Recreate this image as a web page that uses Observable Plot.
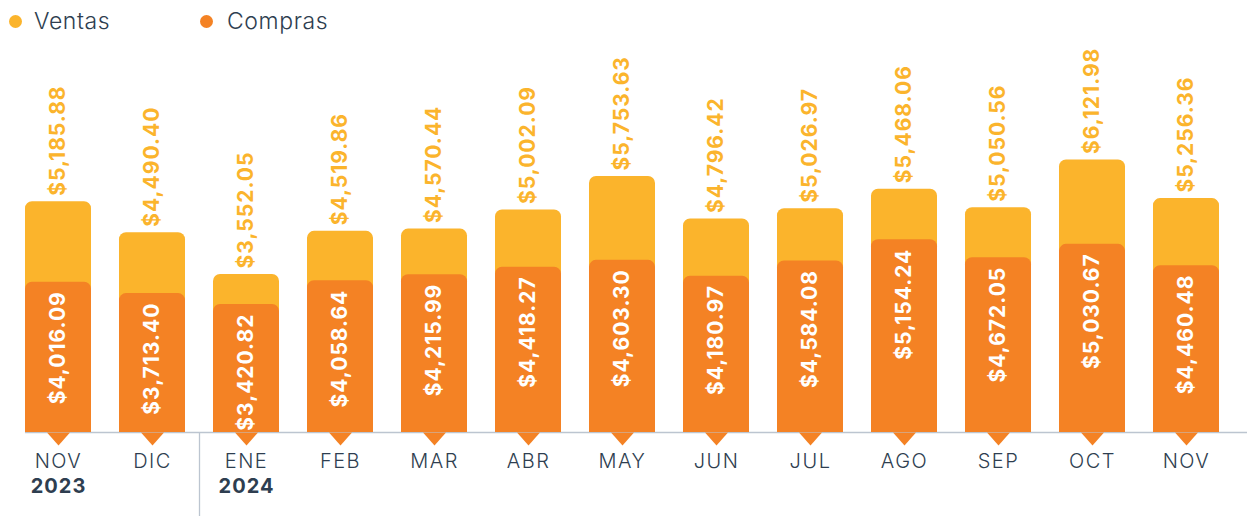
<!DOCTYPE html>
<html>
<head>
<meta charset="utf-8">
<script src="https://cdn.jsdelivr.net/npm/d3@7"></script>
<script src="https://cdn.jsdelivr.net/npm/@observablehq/plot@0.6"></script>
<style>
  html, body { margin: 0; padding: 0; background: #fff; }
  #wrap { position: relative; width: 1247px; height: 516px; font-family: Inter, "Noto Sans", sans-serif; }
  #wrap svg { position: absolute; left: 0; top: 0; }
  #wrap svg g[aria-label="text"] text { letter-spacing: 1px; }
  #wrap svg g[aria-label="x-axis tick label"] text { letter-spacing: 1.5px; }
  .leg { position: absolute; top: 0; height: 42px; line-height: 42px; font-size: 23px; letter-spacing: 0.6px; color: #2E3E50; font-weight: 300; white-space: nowrap; }
  .leg i { position: absolute; top: 15px; width: 13px; height: 13px; border-radius: 50%; }
</style>
</head>
<body>
<div id="wrap"></div>
<script>
// ---- data ----
const months = ["NOV","DIC","ENE","FEB","MAR","ABR","MAY","JUN","JUL","AGO","SEP","OCT","NOV"];
const ventas = [5185.88, 4490.40, 3552.05, 4519.86, 4570.44, 5002.09, 5753.63, 4796.42, 5026.97, 5468.06, 5050.56, 6121.98, 5256.36];
const compras = [4016.09, 3713.40, 3420.82, 4058.64, 4215.99, 4418.27, 4603.30, 4180.97, 4584.08, 5154.24, 4672.05, 5030.67, 4460.48];
const yearLabels = ["2023", "2024"];
const yearAt = [0, 2];
const seriesNames = ["Ventas", "Compras"];
const seriesColors = ["#FBB42C", "#F48224"];

const data = months.map((m, i) => ({i, m, v: ventas[i], c: compras[i]}));
const fmt = d3.format("$,.2f");
const years = yearAt.map((i, j) => ({i, label: yearLabels[j]}));

const W = 1247, H = 516;
const common = {
  width: W, height: H, marginTop: 40, marginBottom: 84, marginLeft: 11, marginRight: 14,
  style: {fontFamily: "Inter, 'Noto Sans', sans-serif", background: "transparent", overflow: "visible"}
};
const xScale = {domain: d3.range(months.length), paddingInner: 0.298, paddingOuter: 0.149, align: 0.5, axis: null};
const pointer = {draw(ctx) { ctx.moveTo(-11.5, 0); ctx.lineTo(11.5, 0); ctx.lineTo(0, 13); ctx.closePath(); }};

const back = Plot.plot({
  ...common,
  x: xScale,
  y: {domain: [0, 8809], axis: null},
  marks: [
    Plot.barY(data, {x: "i", y: "v", fill: seriesColors[0], ry1: 7}),
    Plot.text(data, {x: "i", y: "v", text: d => fmt(d.v), rotate: -90, textAnchor: "start", dy: -6,
      fill: seriesColors[0], fontWeight: "bold", fontSize: 21}),
    Plot.axisX({tickSize: 0, tickPadding: 21, tickFormat: i => months[i], fontSize: 20, fill: "#2E3E50", fontWeight: 300, label: null}),
    Plot.axisX([1], {tickSize: 84, dx: 47, tickFormat: () => "", stroke: "#BCC5D0", strokeWidth: 1.3, label: null}),
    Plot.text(years, {x: "i", text: "label", frameAnchor: "bottom", lineAnchor: "middle", dy: 54, fontWeight: "bold", fontSize: 20, fill: "#2E3E50"})
  ]
});

const front = Plot.plot({
  ...common,
  x: xScale,
  y: {domain: [0, 10481], axis: null},
  marks: [
    Plot.ruleY([0], {stroke: "#BCC5D0", strokeWidth: 1.6, dx: 14}),
    Plot.barY(data, {x: "i", y: "c", fill: seriesColors[1], ry1: 7}),
    Plot.text(data, {x: "i", y: "c", text: d => fmt(d.c), rotate: -90, textAnchor: "end", dy: 9,
      fill: "white", fontWeight: "bold", fontSize: 21}),
    Plot.dot(data, {x: "i", frameAnchor: "bottom", symbol: pointer, fill: seriesColors[1], stroke: null})
  ]
});

const wrap = document.getElementById("wrap");
wrap.appendChild(back);
wrap.appendChild(front);

const legX = [[15, 34], [206, 227]];
seriesNames.forEach((name, j) => {
  const d = document.createElement("div");
  d.className = "leg";
  d.style.left = legX[j][1] + "px";
  d.textContent = name;
  const dot = document.createElement("i");
  dot.style.background = seriesColors[j];
  dot.style.left = (legX[j][0] - legX[j][1] - 6.5) + "px";
  d.appendChild(dot);
  wrap.appendChild(d);
});
</script>
</body>
</html>
